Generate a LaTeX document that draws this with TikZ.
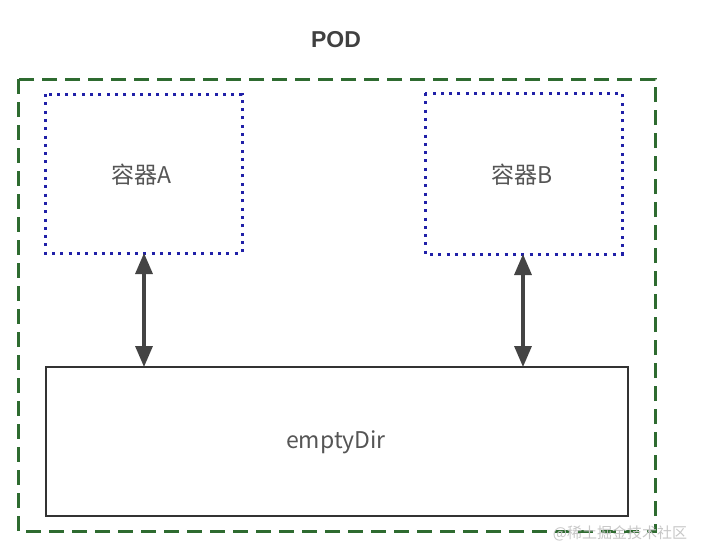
\documentclass[tikz,border=0pt]{standalone}
\usepackage{fontspec}
\setmainfont{Liberation Sans}
\newfontfamily\cjk{Noto Sans CJK SC}
\usetikzlibrary{arrows.meta}
\definecolor{podgreen}{HTML}{2E6B30}
\definecolor{dotblue}{HTML}{2020A8}
\definecolor{arrowgray}{HTML}{444444}
\definecolor{txtgray}{HTML}{555555}
\tikzset{
  podbox/.style={draw=podgreen, line width=3pt, dash pattern=on 15pt off 8pt},
  ctrbox/.style={draw=dotblue, line width=3pt, dash pattern=on 3pt off 5.3pt},
  dirbox/.style={draw=black!80, line width=2.6pt},
  lbl/.style={font=\cjk\fontsize{23}{26}\selectfont, text=txtgray},
  link/.style={draw=arrowgray, line width=3.3pt, {Triangle[length=21pt,width=17pt]}-{Triangle[length=21pt,width=17pt]}},
}
\begin{document}
\begin{tikzpicture}[x=1pt,y=-1pt]
\useasboundingbox (0,0) rectangle (706,549);
\fill[white] (0,0) rectangle (706,549);
\node[font=\bfseries\fontsize{23}{26}\selectfont, text=black!75] (pod) at (336,40) {POD};
\draw[podbox] (18,79) rectangle (655,531);
\draw[ctrbox] (45,94) rectangle (242,253);
\node[lbl] (a) at (141,175) {容器A};
\coordinate (abot) at (144,253);
\draw[ctrbox] (425,93) rectangle (622,254);
\node[lbl] (b) at (522,175) {容器B};
\coordinate (bbot) at (523,254);
\draw[dirbox] (46,367) rectangle (628,516);
\node[lbl] (dir) at (336,442) {emptyDir};
\coordinate (atop) at (144,367);
\coordinate (btop) at (523,367);
\draw[link] (abot) -- (atop);
\draw[link] (bbot) -- (btop);
\node[font=\cjk\fontsize{15}{17}\selectfont, text=black!22] (wm) at (620,533) {@稀土掘金技术社区};
\end{tikzpicture}
\end{document}
